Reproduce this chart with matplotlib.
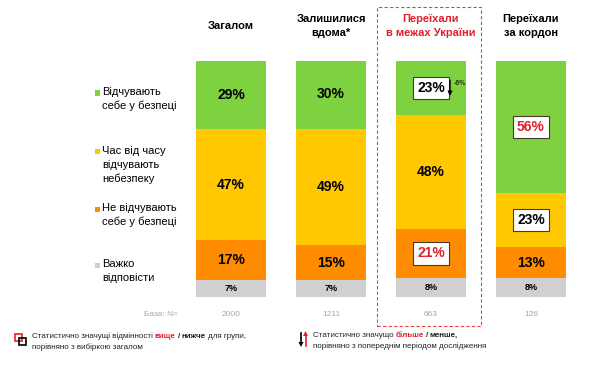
import matplotlib.pyplot as plt
from matplotlib.patches import Rectangle

plt.rcParams['font.family'] = ['Liberation Sans', 'DejaVu Sans']

groups = ["Загалом", "Залишилися\nвдома*", "Переїхали\nв межах України", "Переїхали\nза кордон"]
bases = ["2000", "1211", "663", "126"]
categories = ["Відчувають\nсебе у безпеці", "Час від часу\nвідчувають\nнебезпеку",
              "Не відчувають\nсебе у безпеці", "Важко\nвідповісти"]
safe = [29, 30, 23, 56]
sometimes = [47, 49, 48, 23]
unsafe = [17, 15, 21, 13]
hard = [7, 7, 8, 8]
# significance vs total: (series, group) -> "hi" / "lo"
signif = {(0, 2): "lo", (2, 2): "hi", (0, 3): "hi", (1, 3): "lo"}
changes = {(0, 2): "-6%"}

colors = ["#7ED23F", "#FFC800", "#FF8C00", "#D0D0D0"]
series = [safe, sometimes, unsafe, hard]

W, H = 612, 376
fig = plt.figure(figsize=(W / 100, H / 100), dpi=100)
ax = fig.add_axes([196 / W, (H - 297) / H, 370 / W, 236 / H])
ax.set_xlim(-0.35, 3.35)
ax.set_ylim(0, 100)
ax.axis("off")

def fx(x):
    return x / W

def fy(y):
    return 1 - y / H

x = range(len(groups))
# stack from bottom: hard, unsafe, sometimes, safe
bottoms = [0] * len(groups)
for s in [3, 2, 1, 0]:
    vals = series[s]
    ax.bar(x, vals, bottom=bottoms, width=0.7, color=colors[s], linewidth=0)
    for i, v in enumerate(vals):
        yc = bottoms[i] + v / 2
        if s == 3:
            ax.text(i, yc, f"{v}%", ha="center", va="center", fontsize=6.5, fontweight="bold")
            continue
        kind = signif.get((s, i))
        if kind is None:
            ax.text(i, yc, f"{v}%", ha="center", va="center", fontsize=10, fontweight="bold")
        else:
            ax.text(i, yc, f"{v}%", ha="center", va="center", fontsize=10, fontweight="bold",
                    color="#E0202A" if kind == "hi" else "black",
                    bbox=dict(boxstyle="square,pad=0.3", fc="white", ec="#4a3a2a", lw=0.8))
        if (s, i) in changes:
            ax.annotate("", xy=(i + 0.19, yc - 4.5), xytext=(i + 0.19, yc + 4.5),
                        arrowprops=dict(arrowstyle="-|>", color="black", lw=1, mutation_scale=6))
            ax.text(i + 0.23, yc + 2, changes[(s, i)], ha="left", va="center",
                    fontsize=5, fontweight="bold", color="#1f3a10")
    bottoms = [b + v for b, v in zip(bottoms, vals)]

# headers
for i, g in enumerate(groups):
    ax.text(i, 115, g, ha="center", va="center", fontsize=8, fontweight="bold",
            color="#E0202A" if i == 2 else "black", linespacing=1.5, clip_on=False)

# base row
ax.text(-0.53, -7.6, "База: N=", ha="right", va="center", fontsize=6, color="#A8A8A8", clip_on=False)
for i, b in enumerate(bases):
    ax.text(i, -7.6, b, ha="center", va="center", fontsize=6, color="#A8A8A8", clip_on=False)

# dashed highlight frame
ax.add_patch(Rectangle((1.46, -12.3), 1.04, 135.2, fill=False, ec="#E8403A", lw=0.8,
                       ls=(0, (3, 2)), clip_on=False))

# legend on the left
leg_y = [93, 152, 209, 265]
for c, lab, y in zip(colors, categories, leg_y):
    fig.add_artist(Rectangle((fx(95), fy(y + 2.5)), 5 / W, 5 / H, transform=fig.transFigure,
                             color=c, lw=0))
    fig.text(fx(102), fy(y - 6), lab, ha="left", va="top", fontsize=8, linespacing=1.45)

# footer left: significance vs total
fig.add_artist(Rectangle((fx(15), fy(341)), 7 / W, 7 / H, transform=fig.transFigure,
                         fill=False, ec="#E0202A", lw=1.2))
fig.add_artist(Rectangle((fx(18.5), fy(345)), 7 / W, 7 / H, transform=fig.transFigure,
                         fill=False, ec="black", lw=1.2))

def rich_line(xp, yp, pieces, size=5.8):
    # mixed-style line: each piece placed right after the previous one
    t = fig.text(fx(xp), fy(yp), pieces[0][0], color=pieces[0][1], fontweight=pieces[0][2],
                 fontsize=size, ha="left", va="bottom")
    for s, c, w in pieces[1:]:
        t = ax.annotate(s, xy=(1, 0), xycoords=t, xytext=(1.4, 0),
                        textcoords="offset points", color=c, fontweight=w,
                        fontsize=size, ha="left", va="bottom", annotation_clip=False)

rich_line(32, 340, [("Статистично значущі відмінності", "#222222", "normal"),
                    ("вище", "#E0202A", "bold"), ("/", "#222222", "bold"),
                    ("нижче", "#222222", "bold"), ("для групи,", "#222222", "normal")])
fig.text(fx(32), fy(351), "порівняно з вибіркою загалом", fontsize=5.8, color="#222222",
         ha="left", va="bottom")

# footer right: change vs previous wave
fig.add_artist(plt.Line2D([fx(301), fx(301)], [fy(333), fy(344)], color="black", lw=1.2))
fig.add_artist(plt.Line2D([fx(305.5), fx(305.5)], [fy(335), fy(346)], color="#E0202A", lw=1.2))
fig.add_artist(plt.Polygon([(fx(298.5), fy(342)), (fx(303.5), fy(342)), (fx(301), fy(347))],
                           closed=True, transform=fig.transFigure, color="black", lw=0))
fig.add_artist(plt.Polygon([(fx(303), fy(336)), (fx(308), fy(336)), (fx(305.5), fy(331))],
                           closed=True, transform=fig.transFigure, color="#E0202A", lw=0))
rich_line(313, 339, [("Статистично значущо", "#222222", "normal"),
                     ("більше", "#E0202A", "bold"), ("/", "#222222", "bold"),
                     ("менше,", "#222222", "bold")])
fig.text(fx(313), fy(350), "порівняно з попереднім періодом дослідження", fontsize=5.8,
         color="#222222", ha="left", va="bottom")

fig.savefig("out.png", dpi=100, facecolor="white")
